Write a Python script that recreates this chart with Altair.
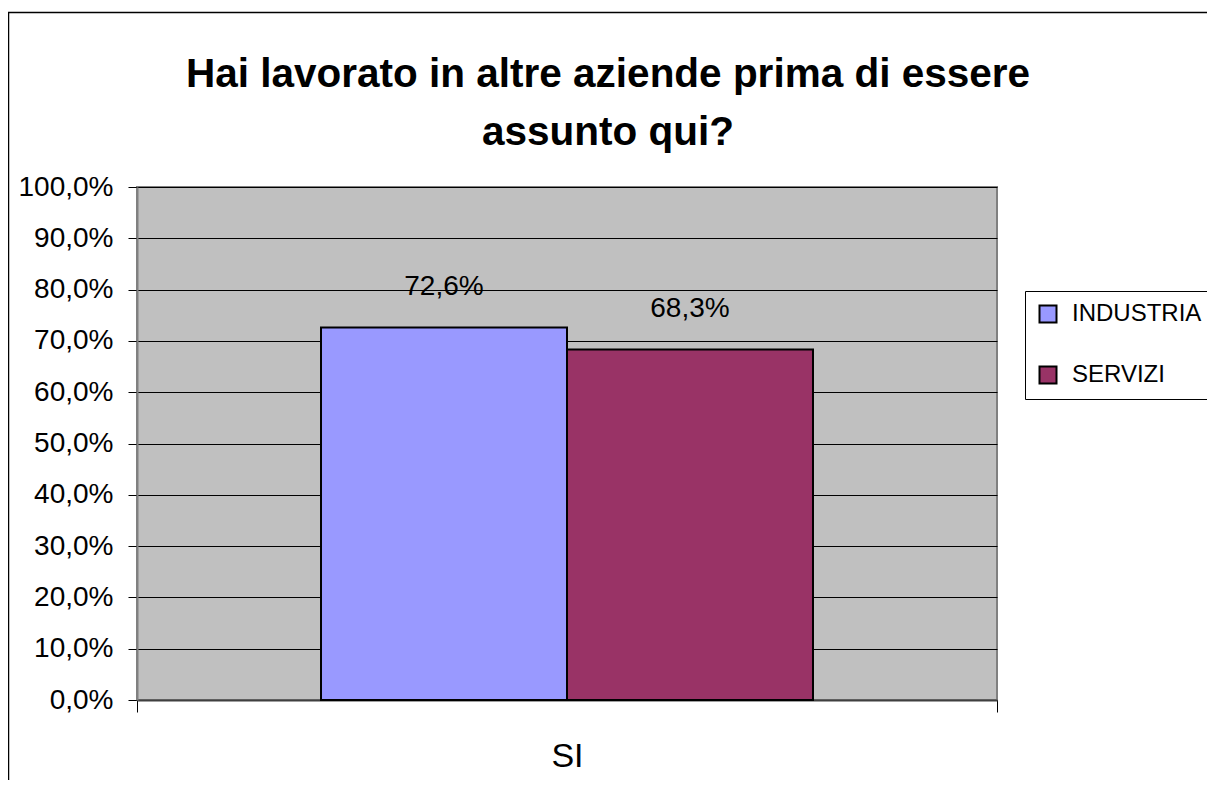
import altair as alt
import pandas as pd

# ---- data ----
categories = ["SI"]
series = ["INDUSTRIA", "SERVIZI"]
values = [0.726, 0.683]
colors = ["#9999FF", "#993366"]
title_lines = ["Hai lavorato in altre aziende prima di essere", "assunto qui?"]
y_ticks = [0.0, 0.1, 0.2, 0.3, 0.4, 0.5, 0.6, 0.7, 0.8, 0.9, 1.0]

df = pd.DataFrame({
    "cat": [categories[0]] * len(series),
    "serie": series,
    "val": values,
})
df["lab"] = [f"{v * 100:.1f}%".replace(".", ",") for v in values]

FONT = "Liberation Sans"
W, H = 860, 513

x_enc = alt.X(
    "cat:N", title=None,
    scale=alt.Scale(paddingInner=0, paddingOuter=0),
    axis=alt.Axis(labelAngle=0, labelFontSize=34, labelColor="black",
                  tickBand="extent", tickSize=12, tickColor="black", tickWidth=1,
                  domainColor="#404040", domainWidth=2, labelPadding=27),
)
xo_enc = alt.XOffset("serie:N", sort=series,
                     scale=alt.Scale(paddingOuter=0.748, paddingInner=0))
y_enc = alt.Y(
    "val:Q", scale=alt.Scale(domain=[0, 1]),
    axis=alt.Axis(values=y_ticks,
                  labelExpr="replace(format(datum.value, '.1%'), '.', ',')",
                  title=None, grid=True, gridColor="black", gridWidth=1,
                  tickSize=9, tickColor="black", labelFontSize=28, labelPadding=15,
                  labelColor="black", domainColor="#808080", domainWidth=2),
)

bars = alt.Chart(df).mark_bar(stroke="black", strokeWidth=2).encode(
    x=x_enc, xOffset=xo_enc, y=y_enc,
    color=alt.Color("serie:N", sort=series,
                    scale=alt.Scale(domain=series, range=colors),
                    legend=alt.Legend(orient="none", legendX=888, legendY=104,
                                      title=None, labelFontSize=24, labelColor="black",
                                      symbolType="square", symbolSize=289,
                                      symbolStrokeColor="black", symbolStrokeWidth=2,
                                      strokeColor="black", fillColor="white",
                                      padding=11, rowPadding=35, labelOffset=12)),
)

labels = alt.Chart(df).mark_text(dy=-33, baseline="alphabetic", fontSize=28,
                                 color="black").encode(
    x=x_enc, xOffset=xo_enc, y=y_enc, text="lab:N",
)

one = alt.Data(values=[{"a": 1}])
border = alt.Chart(one).mark_rect(fill="transparent", stroke="black",
                                  strokeWidth=1.5).encode(
    x=alt.value(-128.5), x2=alt.value(1200),
    y=alt.value(-174.5), y2=alt.value(800),
)

title_text = alt.Chart(one).mark_text(
    text=title_lines, fontSize=40.5, fontWeight="bold", lineHeight=58,
    baseline="alphabetic", align="center", color="black",
).encode(x=alt.value(471), y=alt.value(-100))

chart = alt.layer(border, bars, labels, title_text).properties(
    width=W, height=H,
    padding={"left": 129, "top": 179, "right": 210, "bottom": 80},
    autosize=alt.AutoSizeParams(type="none"),
).configure(font=FONT, background="white").configure_view(
    fill="#C0C0C0", stroke="#808080", strokeWidth=2,
)

chart.save("out.html", embed_options={"renderer": "svg", "actions": False})
